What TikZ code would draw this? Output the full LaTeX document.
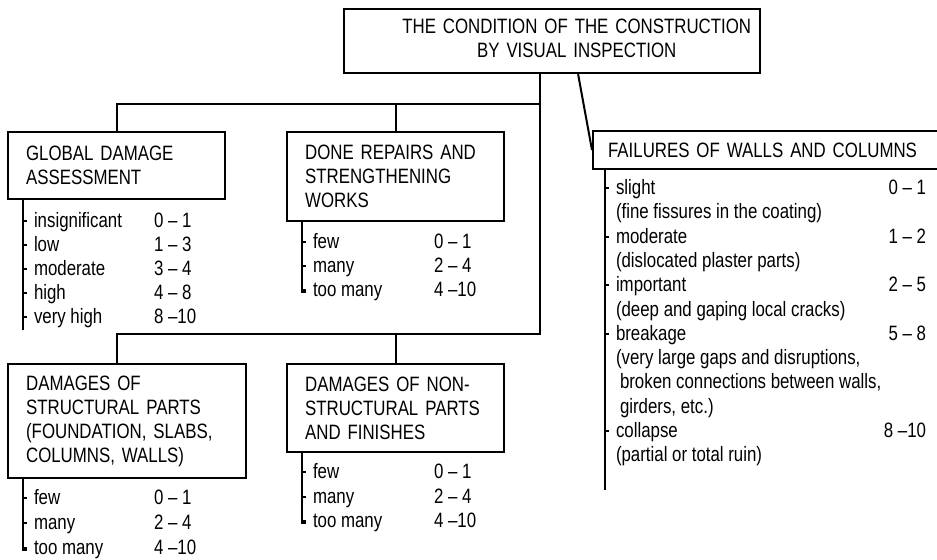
\documentclass[tikz,border=0pt]{standalone}
\usepackage{fontspec}
\setmainfont{Liberation Sans}[FakeStretch=0.81]
\begin{document}
\begin{tikzpicture}[x=0.5pt,y=-0.5pt,line width=1pt,
  every node/.style={font=\fontsize{10.4pt}{12pt}\selectfont},
  box/.style={draw,line width=1.1pt,anchor=north west,align=left,inner xsep=9pt,inner ysep=0pt},
  item/.style={anchor=base west,inner sep=0pt}]
\useasboundingbox (0,0) rectangle (937,560);

% main box and the four groups
\node[box,align=right,text width=199pt,minimum height=32pt,inner xsep=4.5pt] (cond) at (343,8)
  {\begin{tabular}{@{}c@{}}THE CONDITION OF THE CONSTRUCTION\\BY VISUAL INSPECTION\end{tabular}};
\node[box,text width=90.5pt,minimum height=33.5pt] (global) at (7,131) {GLOBAL DAMAGE\\ASSESSMENT};
\node[box,text width=90.5pt,minimum height=44.5pt] (repairs) at (286,131) {DONE REPAIRS AND\\STRENGTHENING\\WORKS};
\node[box,text width=101pt,minimum height=57pt] (struct) at (7,363) {DAMAGES OF\\STRUCTURAL PARTS\\(FOUNDATION, SLABS,\\COLUMNS, WALLS)};
\node[box,text width=90.5pt,minimum height=44pt] (nonstruct) at (286,363) {DAMAGES OF NON-\\STRUCTURAL PARTS\\AND FINISHES};
\node[box,text width=169pt,minimum height=19pt,inner xsep=7.5pt] (fail) at (592,130) {FAILURES OF WALLS AND COLUMNS};

% tree lines
\coordinate (upper) at (540,104);
\coordinate (lower) at (540,334);
\draw (cond.south -| upper) -- (lower) -- (lower -| global.north) -- (struct.north -| global.north);
\draw (nonstruct.north) -- (nonstruct.north |- lower);
\draw (upper) -- (upper -| global.north) -- (global.north);
\draw (repairs.north) -- (repairs.north |- upper);
\draw ([xshift=13pt]cond.south) -- (fail.west);

% global damage
\draw ([xshift=8pt]global.south west) -- ++(0,130);
\foreach \y/\a/\b in {221/insignificant/0 -- 1, 245/low/1 -- 3, 269/moderate/3 -- 4, 293/high/4 -- 8, 317/very high/8 --10}{
  \draw (23,\y) -- ++(4,0);
  \node[item] (ga\y) at (33,\y+7) {\a};
  \node[item] (gb\y) at (153,\y+7) {\b};
}

% repairs
\draw ([xshift=8pt]repairs.south west) |- ++(4,70);
\foreach \y/\a/\b in {242/few/0 -- 1, 266/many/2 -- 4, 290/too many/4 --10}{
  \draw (302,\y) -- ++(4,0);
  \node[item] (ra\y) at (312,\y+7) {\a};
  \node[item] (rb\y) at (433,\y+7) {\b};
}

% structural parts
\draw ([xshift=8pt]struct.south west) |- ++(4,71);
\foreach \y/\a/\b in {498/few/0 -- 1, 523/many/2 -- 4, 548/too many/4 --10}{
  \draw (23,\y) -- ++(4,0);
  \node[item] (sa\y) at (33,\y+7) {\a};
  \node[item] (sb\y) at (153,\y+7) {\b};
}

% non-structural parts
\draw ([xshift=8pt]nonstruct.south west) |- ++(4,70);
\foreach \y/\a/\b in {472/few/0 -- 1, 497/many/2 -- 4, 521/too many/4 --10}{
  \draw (302,\y) -- ++(4,0);
  \node[item] (na\y) at (312,\y+7) {\a};
  \node[item] (nb\y) at (433,\y+7) {\b};
}

% failures of walls and columns
\draw ([xshift=6.5pt]fail.south west) -- ++(0,320);
\foreach \y/\a/\b in {188/slight/0 -- 1, 237/moderate/1 -- 2, 285/important/2 -- 5, 334/breakage/5 -- 8, 431/collapse/8 --10}{
  \draw (605,\y) -- ++(4,0);
  \node[item] (fa\y) at (615,\y+7) {\a};
  \node[item,anchor=base east] (fb\y) at (927,\y+7) {\b};
}
\foreach \y/\c in {212/{(fine fissures in the coating)}, 261/{(dislocated plaster parts)},
  310/{(deep and gaping local cracks)}, 358/{(very large gaps and disruptions,},
  382/{\hspace{2pt}broken connections between walls,}, 407/{\hspace{2pt}girders, etc.)},
  455/{(partial or total ruin)}}
  \node[item] (fc\y) at (615,\y+7) {\c};
\end{tikzpicture}
\end{document}
